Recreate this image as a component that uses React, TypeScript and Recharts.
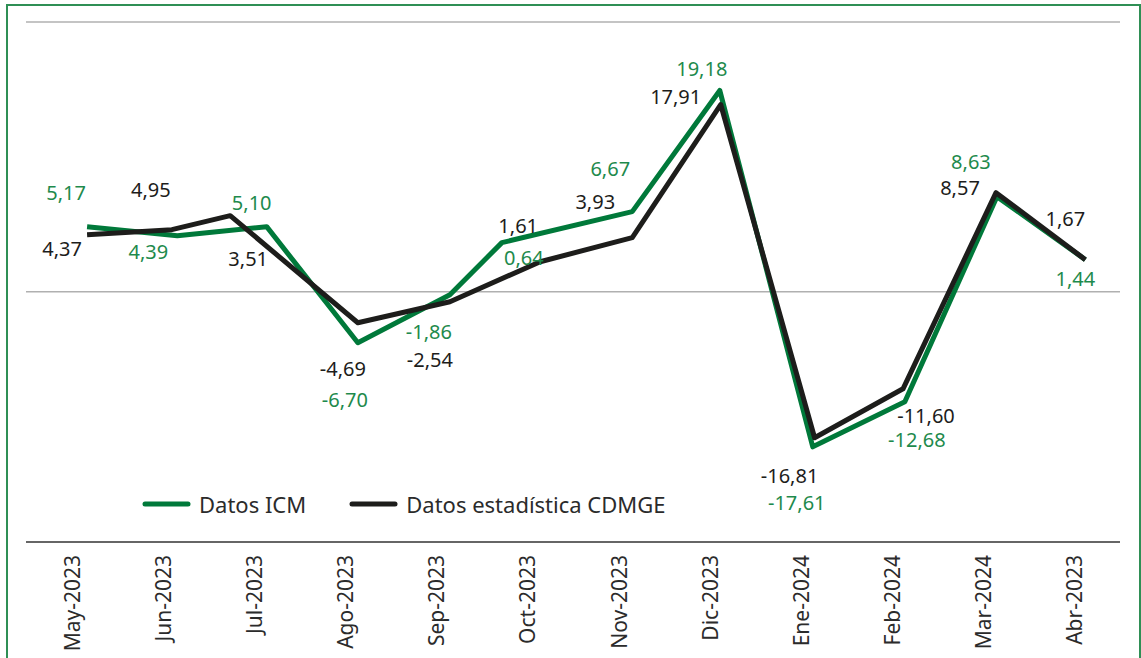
import {
    LineChart,
    Line,
    XAxis,
    YAxis,
    ReferenceLine,
    Legend,
    LabelList,
} from "recharts";

const months = [
    "May-2023", "Jun-2023", "Jul-2023", "Ago-2023", "Sep-2023", "Oct-2023",
    "Nov-2023", "Dic-2023", "Ene-2024", "Feb-2024", "Mar-2024", "Abr-2023",
];

// plotted heights as drawn in the picture (labels carry the published numbers)
const icmValues = [6.03, 5.19, 6.03, -4.73, -0.28, 4.55, 7.42, 18.65, -14.38, -10.2, 8.81, 2.97];
const cdmgeValues = [5.29, 5.75, 7.05, -2.88, -0.93, 2.78, 5.01, 17.35, -13.54, -9.0, 9.18, 2.97];

// where each point sits along the month axis
const icmPos = [0.17, 1.16, 2.14, 3.14, 4.15, 4.72, 6.15, 7.11, 8.13, 9.14, 10.15, 11.12];
const cdmgePos = [0.17, 1.1, 1.74, 3.14, 4.15, 5.14, 6.15, 7.12, 8.15, 9.12, 10.14, 11.12];

const icmLabels = ["5,17", "4,39", "5,10", "-6,70", "-1,86", "0,64", "6,67", "19,18", "-17,61", "-12,68", "8,63", "1,44"];
const cdmgeLabels = ["4,37", "4,95", "3,51", "-4,69", "-2,54", "1,61", "3,93", "17,91", "-16,81", "-11,60", "8,57", "1,67"];

const GREEN = "#00793a";
const GREEN_TEXT = "#1e8a4c";
const BLACK = "#1d1d1b";
const FONT = "'Noto Sans', sans-serif";

// label offsets from each point (layout only)
const icmOffsets = [
    [-21, -34], [-29, 16], [-15, -24], [-13, 57], [-21, 37], [22, 15],
    [-22, -43], [-18, -22], [-16, 56], [12, 38], [-26, -35], [-10, 19],
];
const cdmgeOffsets = [
    [-25, 14], [-21, -40], [18, 43], [-15, 46], [-20, 58], [-22, -36],
    [-37, -36], [-45, -8], [-25, 38], [23, 27], [-36, -5], [-20, -41],
];

const icmData = icmPos.map((p, i) => ({ pos: p, value: icmValues[i], label: icmLabels[i] }));
const cdmgeData = cdmgePos.map((p, i) => ({ pos: p, value: cdmgeValues[i], label: cdmgeLabels[i] }));

function makeLabel(offsets: number[][], color: string) {
    return (props: any) => {
        const { x, y, index, value } = props;
        const [dx, dy] = offsets[index];
        return (
            <text x={x + dx} y={y + dy} textAnchor="middle" dominantBaseline="central"
                fill={color} fontSize={20} fontFamily={FONT}>
                {value}
            </text>
        );
    };
}

function MonthTick(props: any) {
    const { x, y, payload } = props;
    return (
        <g transform={`translate(${x}, ${y}) rotate(-90)`}>
            <text x={0} y={0} textAnchor="end" dominantBaseline="central"
                fill="#2b2b2b" fontSize={21} fontFamily={FONT}>
                {months[payload.value]}
            </text>
        </g>
    );
}

function LegendContent(props: any) {
    const { payload } = props;
    return (
        <div style={{ display: "flex", alignItems: "center", fontFamily: FONT, fontSize: 22, color: "#2b2b2b" }}>
            {payload.map((entry: any, i: number) => (
                <div key={i} style={{ display: "flex", alignItems: "center", marginRight: 43 }}>
                    <svg width={49} height={8} style={{ marginRight: 8 }}>
                        <line x1={3} y1={4} x2={46} y2={4} stroke={entry.color} strokeWidth={5} strokeLinecap="round" />
                    </svg>
                    <span>{entry.value}</span>
                </div>
            ))}
        </div>
    );
}

export default function App() {
    return (
        <div style={{ position: "absolute", left: 0, top: 0, width: 1141, height: 658, overflow: "hidden", background: "#fff" }}>
            <div style={{ position: "absolute", left: 6, top: 4, width: 1135, height: 700,
                border: "2px solid #2f8f55", boxSizing: "border-box" }} />
            <LineChart width={1141} height={658} margin={{ top: 22, right: 21, left: 26, bottom: 0 }}
                style={{ position: "absolute", left: 0, top: 0 }}>
                <XAxis dataKey="pos" type="number" domain={[-0.5, 11.5]}
                    ticks={[0, 1, 2, 3, 4, 5, 6, 7, 8, 9, 10, 11]} allowDecimals height={116}
                    tickLine={false} tickSize={0} tickMargin={13} tick={MonthTick}
                    axisLine={{ stroke: "#333", strokeWidth: 1.5 }} interval={0} />
                <YAxis type="number" domain={[-23.2, 25]} hide />
                <ReferenceLine y={25} stroke="#b0b0b0" strokeWidth={1.5} />
                <ReferenceLine y={0} stroke="#b0b0b0" strokeWidth={1.5} />
                <Legend layout="vertical" align="center" verticalAlign="middle"
                    wrapperStyle={{ left: 142, top: 489, width: 620 }} content={<LegendContent />} />
                <Line data={icmData} dataKey="value" name="Datos ICM" stroke={GREEN} strokeWidth={5}
                    strokeLinejoin="round" dot={false} activeDot={false} isAnimationActive={false}>
                    <LabelList dataKey="label" content={makeLabel(icmOffsets, GREEN_TEXT)} />
                </Line>
                <Line data={cdmgeData} dataKey="value" name="Datos estadística CDMGE" stroke={BLACK} strokeWidth={5}
                    strokeLinejoin="round" dot={false} activeDot={false} isAnimationActive={false}>
                    <LabelList dataKey="label" content={makeLabel(cdmgeOffsets, BLACK)} />
                </Line>
            </LineChart>
        </div>
    );
}
